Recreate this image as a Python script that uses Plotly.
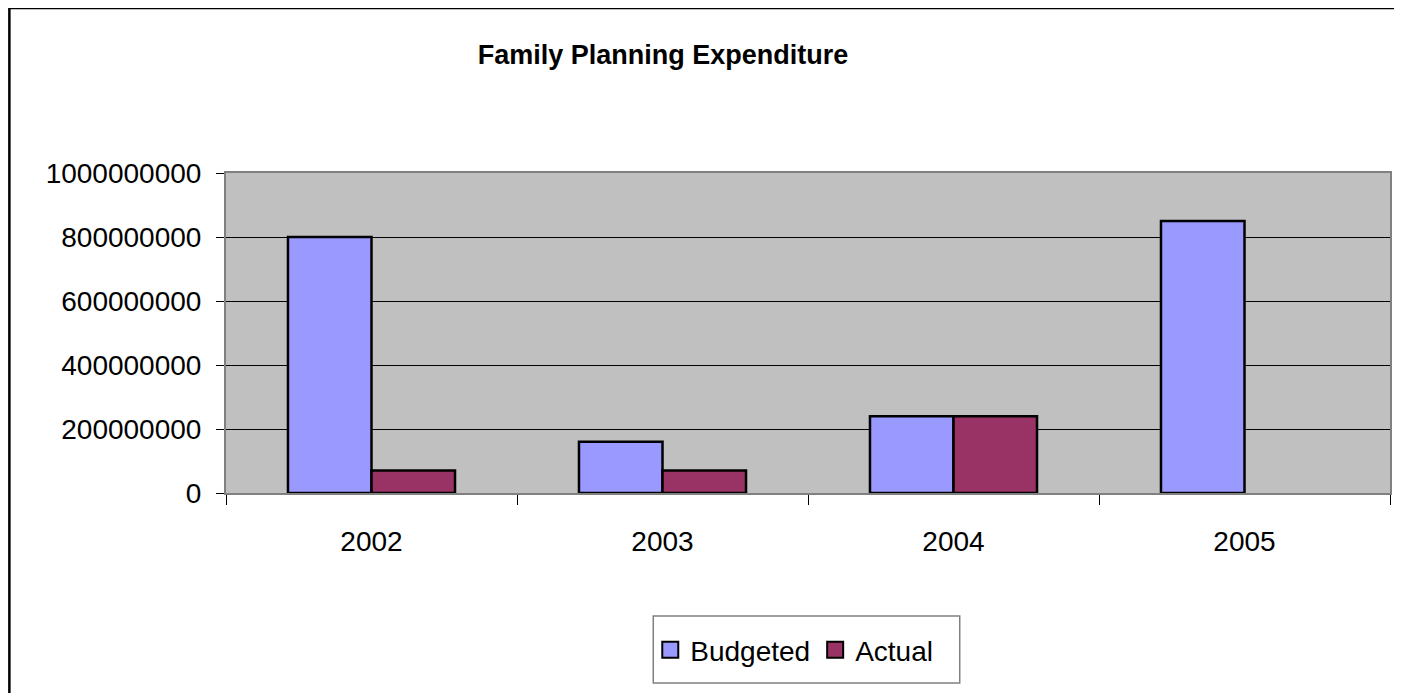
import plotly.graph_objects as go

categories = ["2002", "2003", "2004", "2005"]
budgeted = [800000000, 160000000, 240000000, 850000000]
actual = [70000000, 70000000, 240000000, None]
y_ticks = [0, 200000000, 400000000, 600000000, 800000000, 1000000000]

# page body has an 8px margin, so figure coords = screen coords - 8
OFF = 8
W, H = 1402 - OFF, 693 - OFF
L, R, T, B = 226 - OFF, 10, 173 - OFF, 200
pw, ph = W - L - R, H - T - B

def sx(p):  # screen px -> paper x
    return (p - OFF - L) / pw

def sy(p):  # screen px -> paper y
    return (H - B - (p - OFF)) / ph

FONT = "Liberation Sans, Arial, sans-serif"
C_BUD = "#9999FF"
C_ACT = "#993366"

fig = go.Figure()
fig.add_trace(go.Bar(name="Budgeted", x=categories, y=budgeted, showlegend=False,
                     marker=dict(color=C_BUD, line=dict(color="black", width=2.5))))
fig.add_trace(go.Bar(name="Actual", x=categories, y=actual, showlegend=False,
                     marker=dict(color=C_ACT, line=dict(color="black", width=2.5))))
# legend-only entries with larger square swatches
for name, col in [("Budgeted", C_BUD), ("Actual", C_ACT)]:
    fig.add_trace(go.Scatter(name=name, x=[None], y=[None], mode="markers",
                             marker=dict(symbol="square", size=18, color=col,
                                         line=dict(color="black", width=2))))

fig.update_layout(
    width=W, height=H,
    margin=dict(l=L, r=R, t=T, b=B),
    paper_bgcolor="white",
    plot_bgcolor="#C0C0C0",
    barmode="group",
    bargap=0.426,
    bargroupgap=0,
    font=dict(family=FONT, size=28, color="black"),
    title=dict(text="<b>Family Planning Expenditure</b>",
               x=(663 - OFF) / W, xanchor="center", y=1 - (55 - OFF) / H, yanchor="middle",
               font=dict(family=FONT, size=27, color="black")),
    legend=dict(orientation="h", x=sx(651), xanchor="left",
                y=sy(650), yanchor="middle",
                bgcolor="rgba(0,0,0,0)", borderwidth=0,
                font=dict(family=FONT, size=28, color="black"),
                itemwidth=30, tracegroupgap=0),
    showlegend=True,
)

fig.update_xaxes(
    type="category",
    tickson="boundaries",
    ticks="outside", ticklen=10, tickcolor="black", tickwidth=1,
    showgrid=False,
    showline=True, linecolor="#808080", linewidth=2, mirror=True,
    ticklabelstandoff=22,
    tickfont=dict(family=FONT, size=28),
)
fig.update_yaxes(
    range=[0, 1000000000],
    tickvals=y_ticks,
    ticktext=[str(v) for v in y_ticks],
    ticks="outside", ticklen=8, tickcolor="black", tickwidth=1,
    showgrid=True, gridcolor="black", gridwidth=1,
    showline=True, linecolor="#808080", linewidth=2, mirror=True,
    zeroline=False,
    ticklabelstandoff=9,
    tickfont=dict(family=FONT, size=28),
)

shapes = [
    # outer chart frame (extends past image edges like the reference)
    dict(type="rect", xref="paper", yref="paper",
         x0=sx(9), x1=sx(1430), y0=sy(730), y1=sy(8),
         line=dict(color="black", width=2.5), fillcolor="rgba(0,0,0,0)", layer="below"),
    # legend box
    dict(type="rect", xref="paper", yref="paper",
         x0=sx(654), x1=sx(961), y0=sy(683), y1=sy(616),
         line=dict(color="#808080", width=1.5), fillcolor="rgba(0,0,0,0)"),
]
fig.update_layout(shapes=shapes)

fig.write_html("out.html")
